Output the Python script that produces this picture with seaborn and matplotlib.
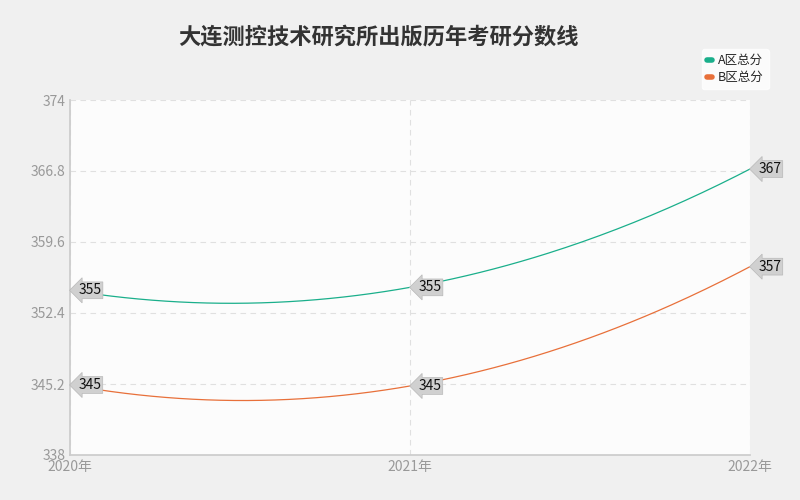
import numpy as np
import matplotlib
matplotlib.use("Agg")
import matplotlib.pyplot as plt
import seaborn as sns

years = ["2020年", "2021年", "2022年"]
a_vals = [354.7, 355.0, 367.0]
b_vals = [345.1, 345.0, 357.1]
a_labels = ["355", "355", "367"]
b_labels = ["345", "345", "357"]
yticks = [338, 345.2, 352.4, 359.6, 366.8, 374]

sns.set_theme(style="white")
plt.rcParams["font.family"] = ["Noto Sans CJK SC", "DejaVu Sans"]

fig = plt.figure(figsize=(8, 5), dpi=100, facecolor="#f0f0f0")
ax = fig.add_axes([70 / 800, 45 / 500, 680 / 800, 355 / 500])
ax.set_facecolor("#fcfcfc")

x = np.arange(len(years))
xs = np.linspace(0, 2, 200)
for vals, labels, color, name in [(a_vals, a_labels, "#1aaf8b", "A区总分"),
                                  (b_vals, b_labels, "#e8703a", "B区总分")]:
    coef = np.polyfit(x, vals, 2)
    sns.lineplot(x=xs, y=np.polyval(coef, xs), ax=ax, color=color, lw=0.9, label=name)
    for xi, v, lab in zip(x, vals, labels):
        ax.annotate(lab, (xi, v), xytext=(6, 0), textcoords="offset points",
                    va="center", ha="left", fontsize=10, color="#111",
                    bbox=dict(boxstyle="larrow,pad=0.1", fc="#d0d0d0", ec="#b8b8b8", lw=0.5))

ax.set_xlim(0, 2)
ax.set_ylim(338, 374)
ax.set_xticks(x, years)
ax.set_yticks(yticks, [f"{t:g}" for t in yticks])
ax.tick_params(colors="#999999", labelsize=10, length=0)
ax.grid(True, ls=(0, (5, 4)), color="#e0e0e0", lw=0.8)
for s in ["top", "right"]:
    ax.spines[s].set_visible(False)
for s in ["left", "bottom"]:
    ax.spines[s].set_color("#cccccc")

fig.text(378 / 800, 1 - 37 / 500, "大连测控技术研究所出版历年考研分数线", ha="center", va="center",
         fontsize=16, fontweight="bold", color="#333333")
leg = ax.legend(loc="upper right", bbox_to_anchor=((775 - 70) / 680, 1 + (100 - 43) / 355), fontsize=9,
                handlelength=0.4, handleheight=0.4, handletextpad=0.5, frameon=True, facecolor="white",
                edgecolor="white", borderpad=0.4, labelspacing=0.3)
for h in leg.get_lines():
    h.set_linewidth(4)

fig.savefig("out.png", dpi=100, facecolor=fig.get_facecolor())
